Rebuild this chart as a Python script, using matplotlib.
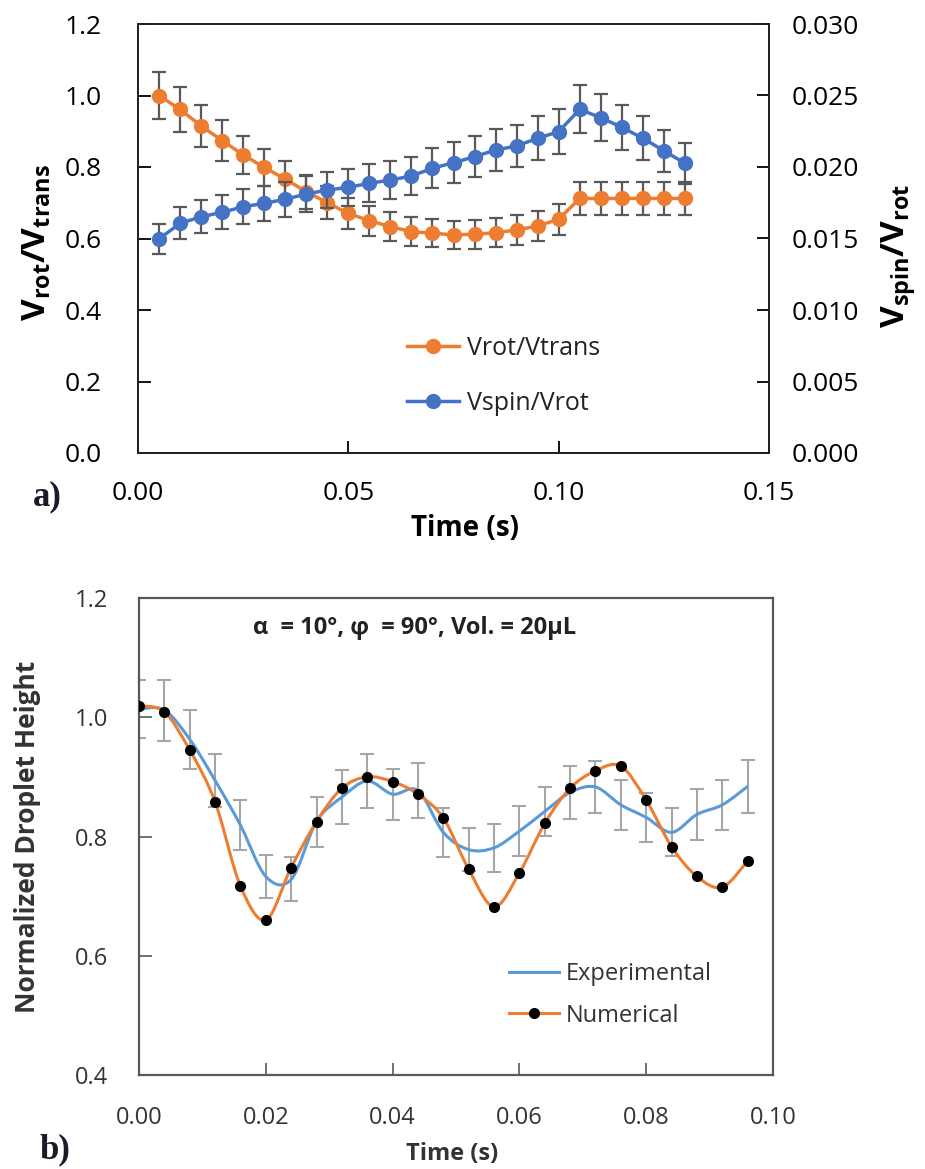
import matplotlib
matplotlib.use("Agg")
import matplotlib.pyplot as plt
from matplotlib.path import Path
from matplotlib.patches import PathPatch
from matplotlib.lines import Line2D

# ---- data: panel a ----
t_a = [0.005, 0.010, 0.015, 0.020, 0.025, 0.030, 0.035, 0.040, 0.045, 0.050,
       0.055, 0.060, 0.065, 0.070, 0.075, 0.080, 0.085, 0.090, 0.095, 0.100,
       0.105, 0.110, 0.115, 0.120, 0.125, 0.130]
rot_trans = [1.00, 0.961, 0.915, 0.874, 0.834, 0.799, 0.766, 0.731, 0.700, 0.670,
             0.650, 0.633, 0.619, 0.615, 0.610, 0.612, 0.616, 0.624, 0.635, 0.654,
             0.712, 0.712, 0.712, 0.712, 0.712, 0.712]
rot_trans_err = [0.065, 0.062, 0.059, 0.057, 0.054, 0.052, 0.050, 0.048, 0.046, 0.044,
                 0.042, 0.041, 0.040, 0.040, 0.040, 0.040, 0.040, 0.041, 0.041, 0.043,
                 0.046, 0.046, 0.046, 0.046, 0.046, 0.046]
spin_rot = [0.01497, 0.01606, 0.01652, 0.01683, 0.01722, 0.01746, 0.01774, 0.01811,
            0.01839, 0.01858, 0.01886, 0.01909, 0.01937, 0.01991, 0.02030, 0.02072,
            0.02119, 0.02147, 0.02201, 0.02247, 0.02403, 0.02345, 0.02278, 0.02201,
            0.02114, 0.02026]
spin_rot_err = [0.00105, 0.00112, 0.00116, 0.00118, 0.00121, 0.00122, 0.00124, 0.00127,
                0.00129, 0.00130, 0.00132, 0.00134, 0.00136, 0.00139, 0.00142, 0.00145,
                0.00148, 0.00150, 0.00154, 0.00157, 0.00168, 0.00164, 0.00159, 0.00154,
                0.00148, 0.00142]

# ---- data: panel b ----
t_b = [0.000, 0.004, 0.008, 0.012, 0.016, 0.020, 0.024, 0.028, 0.032, 0.036,
       0.040, 0.044, 0.048, 0.052, 0.056, 0.060, 0.064, 0.068, 0.072, 0.076,
       0.080, 0.084, 0.088, 0.092, 0.096]
experimental = [1.014, 1.012, 0.963, 0.894, 0.819, 0.733, 0.728, 0.825, 0.866, 0.893,
                0.871, 0.877, 0.807, 0.778, 0.781, 0.809, 0.842, 0.874, 0.883, 0.853,
                0.832, 0.807, 0.837, 0.853, 0.884]
experimental_err = [0.049, 0.051, 0.049, 0.045, 0.042, 0.036, 0.037, 0.042, 0.045, 0.045,
                    0.043, 0.046, 0.041, 0.036, 0.040, 0.042, 0.041, 0.044, 0.043, 0.042,
                    0.041, 0.040, 0.043, 0.042, 0.045]
numerical = [1.019, 1.009, 0.945, 0.858, 0.717, 0.660, 0.748, 0.825, 0.881, 0.900,
             0.892, 0.871, 0.831, 0.745, 0.682, 0.739, 0.822, 0.881, 0.910, 0.918,
             0.861, 0.783, 0.733, 0.715, 0.759]

ORANGE = '#ED7D31'
BLUE = '#4472C4'
LBLUE = '#5B9BD5'

plt.rcParams['font.family'] = ['Open Sans', 'DejaVu Sans']
plt.rcParams['mathtext.fontset'] = 'custom'
plt.rcParams['mathtext.rm'] = 'Open Sans'
plt.rcParams['mathtext.bf'] = 'Open Sans:bold'


def smooth_path(x, y):
    # Excel-like smoothed line: cubic Bezier through every point
    verts = [(x[0], y[0])]
    codes = [Path.MOVETO]
    n = len(x)
    for i in range(n - 1):
        xp, yp = (x[i - 1], y[i - 1]) if i > 0 else (x[i], y[i])
        xn, yn = (x[i + 2], y[i + 2]) if i + 2 < n else (x[i + 1], y[i + 1])
        c1 = (x[i] + (x[i + 1] - xp) / 6, y[i] + (y[i + 1] - yp) / 6)
        c2 = (x[i + 1] - (xn - x[i]) / 6, y[i + 1] - (yn - y[i]) / 6)
        verts += [c1, c2, (x[i + 1], y[i + 1])]
        codes += [Path.CURVE4] * 3
    return Path(verts, codes)


fig = plt.figure(figsize=(9.25, 11.69), dpi=100)

# ================= panel a =================
ax = fig.add_axes([138 / 925, 1 - 453 / 1169, 631 / 925, 429 / 1169])
ax2 = ax.twinx()

ax.errorbar(t_a, rot_trans, yerr=rot_trans_err, fmt='none', ecolor='#595959',
            elinewidth=1.6, capsize=5, capthick=1.6, zorder=2)
l1, = ax.plot(t_a, rot_trans, color=ORANGE, lw=2.5, marker='o', ms=10, zorder=3)
ax2.errorbar(t_a, spin_rot, yerr=spin_rot_err, fmt='none', ecolor='#595959',
             elinewidth=1.6, capsize=5, capthick=1.6, zorder=2)
l2, = ax2.plot(t_a, spin_rot, color=BLUE, lw=2.5, marker='o', ms=10, zorder=3)

ax.set_xlim(0, 0.15)
ax.set_ylim(0, 1.2)
ax2.set_ylim(0, 0.03)
ax.set_xticks([0, 0.05, 0.10, 0.15])
ax.set_xticklabels(['0.00', '0.05', '0.10', '0.15'])
ax.set_yticks([0, 0.2, 0.4, 0.6, 0.8, 1.0, 1.2])
ax.set_yticklabels(['0.0', '0.2', '0.4', '0.6', '0.8', '1.0', '1.2'])
ax2.set_yticks([0, 0.005, 0.010, 0.015, 0.020, 0.025, 0.030])
ax2.set_yticklabels(['0.000', '0.005', '0.010', '0.015', '0.020', '0.025', '0.030'])

ax.tick_params(axis='x', direction='in', length=9, width=1.3, labelsize=19, pad=20)
ax.tick_params(axis='y', direction='in', length=9, width=1.3, labelsize=19, pad=26)
ax2.tick_params(axis='y', direction='in', length=9, width=1.3, labelsize=19, pad=16)
for a in (ax, ax2):
    for s in a.spines.values():
        s.set_linewidth(1.3)
        s.set_color('#222222')

ax.set_ylabel(r'$\mathbf{V}_{\mathbf{rot}}\mathbf{/V}_{\mathbf{trans}}$', fontsize=24)
ax.yaxis.set_label_coords(-0.135, 0.49)
ax2.set_ylabel(r'$\mathbf{V}_{\mathbf{spin}}\mathbf{/V}_{\mathbf{rot}}$', fontsize=24)
ax2.yaxis.set_label_coords(1.175, 0.46)
ax.set_xlabel('Time (s)', fontsize=20, fontweight='bold')
ax.xaxis.set_label_coords(0.518, -0.143)

ax2.legend([l1, l2], ['Vrot/Vtrans', 'Vspin/Vrot'], loc='center left',
           bbox_to_anchor=(0.39, 0.18), frameon=False, fontsize=18,
           handlelength=2.1, handletextpad=0.3, labelspacing=1.2,
           labelcolor='#222222')

# ================= panel b =================
bx = fig.add_axes([139 / 925, 1 - 1075 / 1169, 634 / 925, 477 / 1169])
bx.errorbar(t_b, experimental, yerr=experimental_err, fmt='none', ecolor='#a6a6a6',
            elinewidth=1.5, capsize=5, capthick=1.5, zorder=2)
bx.add_patch(PathPatch(smooth_path(t_b, experimental), fill=False,
                       ec=LBLUE, lw=2.2, zorder=3))
bx.add_patch(PathPatch(smooth_path(t_b, numerical), fill=False,
                       ec=ORANGE, lw=2.2, zorder=4))
bx.plot(t_b, numerical, ls='none', marker='o', ms=7, color='black', zorder=5)

bx.set_xlim(0, 0.10)
bx.set_ylim(0.4, 1.2)
bx.set_xticks([0, 0.02, 0.04, 0.06, 0.08, 0.10])
bx.set_xticklabels(['0.00', '0.02', '0.04', '0.06', '0.08', '0.10'])
bx.set_yticks([0.4, 0.6, 0.8, 1.0, 1.2])
bx.set_yticklabels(['0.4', '0.6', '0.8', '1.0', '1.2'])
bx.tick_params(axis='x', direction='in', length=9, width=1.2, labelsize=17, pad=22,
               labelcolor='#333333', color='#595959')
bx.tick_params(axis='y', direction='in', length=9, width=1.2, labelsize=17, pad=22,
               labelcolor='#333333', color='#595959')
for s in bx.spines.values():
    s.set_linewidth(1.6)
    s.set_color('#595959')

bx.set_ylabel('Normalized Droplet Height', fontsize=19, fontweight='bold', color='#333333')
bx.yaxis.set_label_coords(-0.155, 0.5)
bx.set_xlabel('Time (s)', fontsize=17, fontweight='bold', color='#333333')
bx.xaxis.set_label_coords(0.494, -0.14)

bx.text(0.0435, 1.15, u'\u03b1  = 10\u00b0, \u03c6  = 90\u00b0, Vol. = 20\u03bcL',
        ha='center', va='center', fontsize=17, fontweight='bold', color='#222222')

h_exp = Line2D([], [], color=LBLUE, lw=2.2)
h_num = Line2D([], [], color=ORANGE, lw=2.2, marker='o', ms=7,
               mfc='black', mec='black')
bx.legend([h_exp, h_num], ['Experimental', 'Numerical'], loc='center left',
          bbox_to_anchor=(0.55, 0.168), frameon=False, fontsize=17,
          handlelength=2.1, handletextpad=0.3, labelspacing=0.75,
          labelcolor='#333333')

# panel letters
fig.text(33 / 925, 1 - 497 / 1169, 'a)', fontsize=25, fontweight='bold',
         family='Liberation Serif', va='center', color='#1a1a2a')
fig.text(40 / 925, 1 - 1150 / 1169, 'b)', fontsize=25, fontweight='bold',
         family='Liberation Serif', va='center', color='#1a1a2a')

fig.savefig('out.png', dpi=100)
